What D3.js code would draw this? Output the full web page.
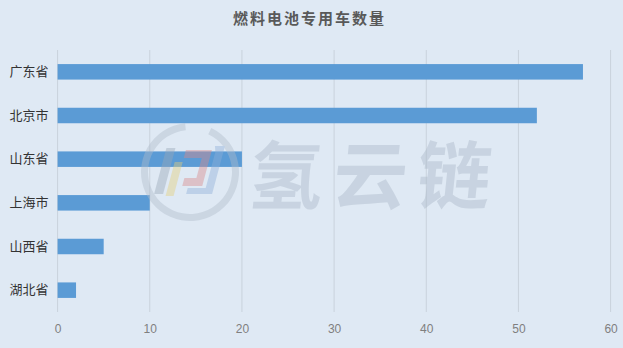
<!DOCTYPE html>
<html>
<head>
<meta charset="utf-8">
<script src="https://cdn.jsdelivr.net/npm/d3@7"></script>
<style>
  html, body { margin: 0; padding: 0; background: #dfe9f4; }
  svg { display: block; }
</style>
</head>
<body>
<div id="chart"></div>
<script>
// Fuel-cell special vehicles by province
const provinces = ["广东省", "北京市", "山东省", "上海市", "山西省", "湖北省"];
const vehicleCounts = [57, 52, 20, 10, 5, 2];
const xTicks = [0, 10, 20, 30, 40, 50, 60];
const chartTitle = "燃料电池专用车数量";
const brandMark = "氢云链";

const width = 623, height = 348;
const margin = { top: 50, right: 12.4, bottom: 36, left: 57.6 };

const svg = d3.select("#chart").append("svg")
  .attr("width", width)
  .attr("height", height);

svg.append("rect")
  .attr("width", width).attr("height", height)
  .attr("fill", "#dfe9f4");

const x = d3.scaleLinear()
  .domain([0, 60])
  .range([margin.left, width - margin.right]);

const y = d3.scaleBand()
  .domain(provinces)
  .range([margin.top, height - margin.bottom])
  .paddingInner(0.645)
  .paddingOuter(0.3225);

// vertical gridlines
svg.append("g")
  .selectAll("line")
  .data(xTicks)
  .join("line")
  .attr("x1", d => x(d)).attr("x2", d => x(d))
  .attr("y1", margin.top).attr("y2", height - margin.bottom)
  .attr("stroke", "#c9d2dc")
  .attr("stroke-width", 1);

// bars
svg.append("g")
  .selectAll("rect")
  .data(provinces.map((p, i) => ({ p, v: vehicleCounts[i] })))
  .join("rect")
  .attr("x", x(0))
  .attr("y", d => y(d.p))
  .attr("width", d => x(d.v) - x(0))
  .attr("height", y.bandwidth())
  .attr("fill", "#5b9bd5");

// category axis
const yAxis = svg.append("g")
  .attr("transform", `translate(${x(0)},0)`)
  .call(d3.axisLeft(y).tickSize(0).tickPadding(9));
yAxis.select(".domain").remove();
yAxis.selectAll("text")
  .attr("font-family", "'Noto Sans CJK SC', sans-serif")
  .attr("font-size", 13)
  .attr("fill", "#333333");

// value axis
const xAxis = svg.append("g")
  .attr("transform", `translate(0,${height - margin.bottom})`)
  .call(d3.axisBottom(x).tickValues(xTicks).tickSize(0).tickPadding(12));
xAxis.select(".domain").remove();
xAxis.selectAll("text")
  .attr("font-family", "'Liberation Sans', Arial, sans-serif")
  .attr("font-size", 12)
  .attr("fill", "#7f7f7f");

// title
svg.append("text")
  .attr("x", width / 2 - 2)
  .attr("y", 24)
  .attr("text-anchor", "middle")
  .attr("font-family", "'Noto Sans CJK SC', sans-serif")
  .attr("font-size", 15)
  .attr("font-weight", "bold")
  .attr("letter-spacing", 2)
  .attr("fill", "#595959")
  .text(chartTitle);

// brand watermark
const wm = svg.append("g").attr("opacity", 0.42);
wm.append("path")
  .attr("d", d3.arc()({ innerRadius: 42, outerRadius: 49, startAngle: 0.45, endAngle: 2 * Math.PI - 0.1 }))
  .attr("transform", "translate(190,172)")
  .attr("fill", "#b0bccb");
const mark = wm.append("g").attr("transform", "translate(190,172) skewX(-15)");
mark.append("rect").attr("x", -30).attr("y", -24).attr("width", 9).attr("height", 46).attr("fill", "#9aa8b8");
mark.append("rect").attr("x", -18).attr("y", -10).attr("width", 8).attr("height", 34).attr("fill", "#e5cf7a");
mark.append("path")
  .attr("d", "M-10,-22 L16,-22 L16,14 L-4,14 L-4,6 L8,6 L8,-14 L-10,-14 Z")
  .attr("fill", "#d98a8a");
mark.append("path")
  .attr("d", "M18,-26 L28,-26 L28,22 L2,22 L2,16 L20,16 L20,-20 Z")
  .attr("fill", "#8fb0d8");
wm.append("text")
  .attr("x", 248)
  .attr("y", 203)
  .attr("font-family", "'Noto Sans CJK SC', sans-serif")
  .attr("font-size", 74)
  .attr("font-weight", "bold")
  .attr("letter-spacing", 10)
  .attr("transform", "skewX(-6) translate(20,0)")
  .attr("fill", "#aab7c7")
  .text(brandMark);
</script>
</body>
</html>
